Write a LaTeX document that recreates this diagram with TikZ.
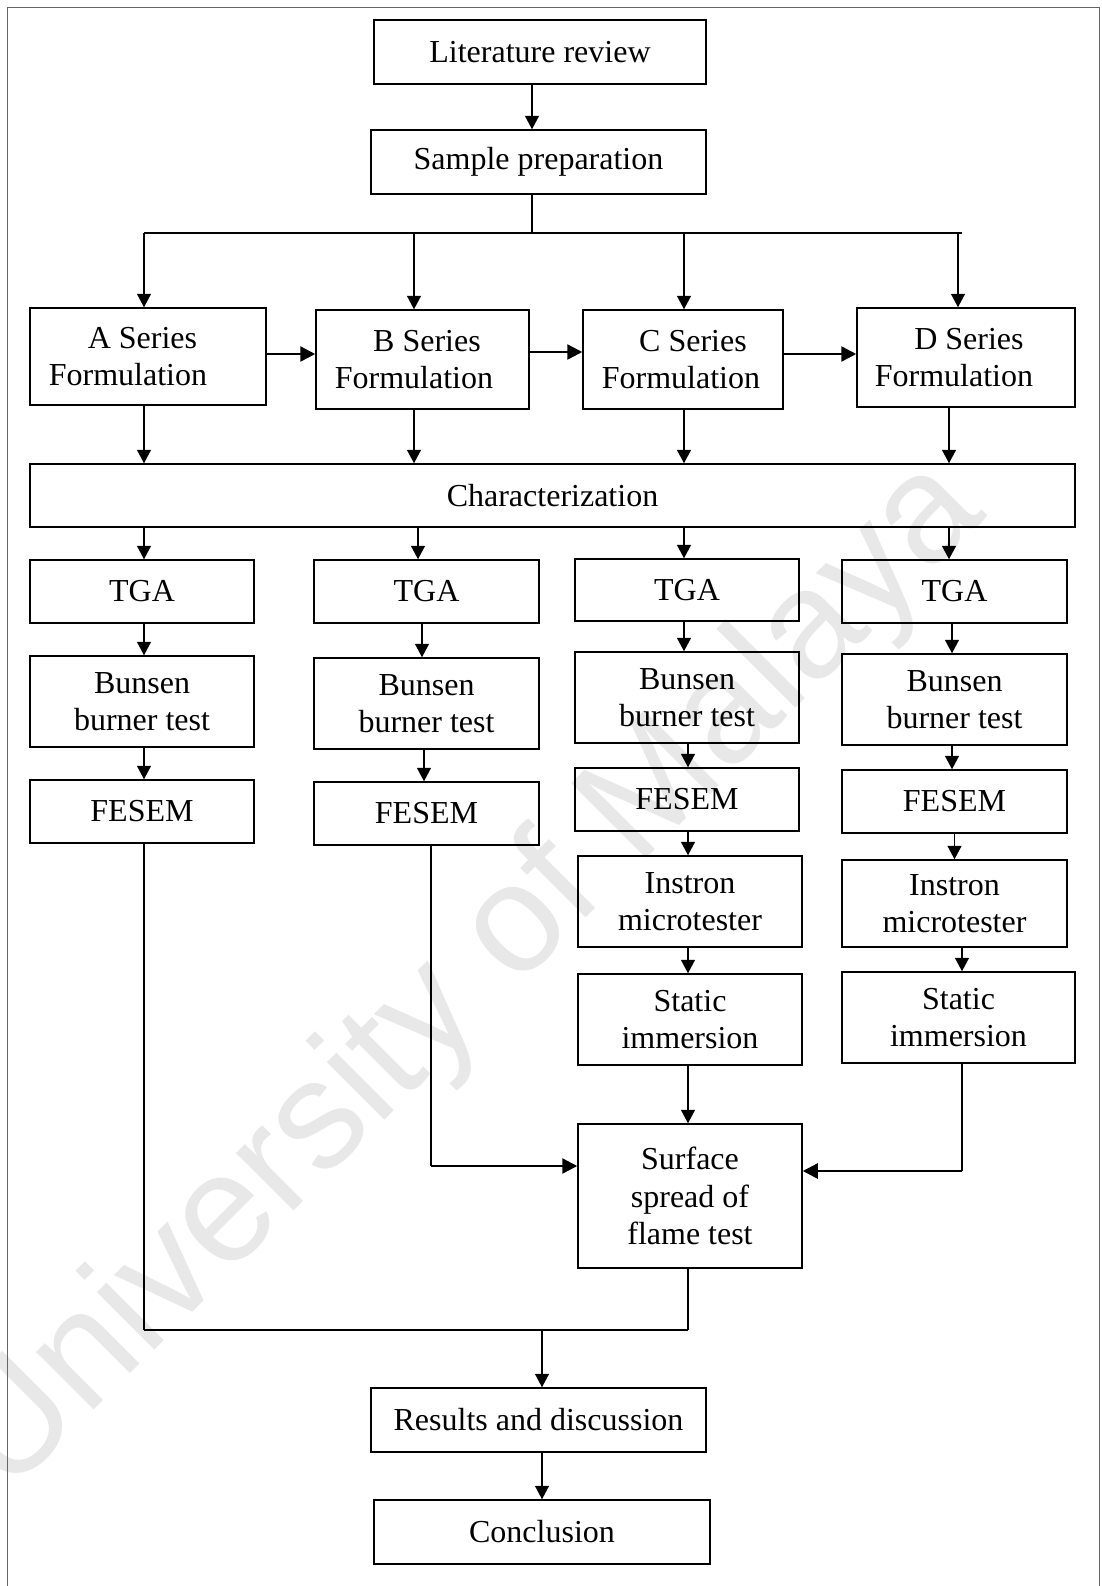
\documentclass[tikz,border=0pt]{standalone}
\usepackage{fontspec}
\setmainfont{Liberation Serif}
\newfontfamily\wmfont{Liberation Sans}
\usetikzlibrary{arrows.meta,calc}
\begin{document}
\begin{tikzpicture}[x=0.5pt,y=-0.5pt,
  box/.style={draw, line width=0.75pt, inner sep=0pt, align=center,
    font=\fontsize{16pt}{18.75pt}\selectfont},
  ln/.style={line width=0.75pt},
  arr/.style={line width=0.75pt, -{Triangle[length=6.75pt,width=7pt]}},
  harr/.style={line width=1.25pt, -{Triangle[length=7.5pt,width=7.5pt]}},
  busln/.style={line width=1pt},
  frameln/.style={line width=0.75pt, draw=black!60},
  wmark/.style={rotate=45, text=black!9, inner sep=0pt,
    font=\wmfont\fontsize{77pt}{77pt}\selectfont}]
\useasboundingbox (0,0) rectangle (1102,1586);
% watermark
\node[wmark] (wm) at (470,978) {University of Malaya};
% frame
\draw[frameln] (7.5,1600) -- (7.5,7.5) -- (1099.5,7.5) -- (1099.5,1600);

% nodes
\node[box, minimum width=166pt, minimum height=32pt] (lit) at (540,52) {Literature review};
\node[box, minimum width=167.5pt, minimum height=32pt] (prep) at (538.5,162) {Sample preparation};

\node[box, minimum width=118pt, minimum height=48.5pt] (A) at (148,356.5)
  {A Series\kern5.5pt\\Formulation\kern20pt};
\node[box, minimum width=106.5pt, minimum height=49.5pt] (B) at (422.5,359.5)
  {\hspace*{4.5pt}B Series\\Formulation\kern8.5pt};
\node[box, minimum width=100pt, minimum height=49.5pt] (C) at (683,359.5)
  {\hspace*{10pt}C Series\\Formulation\kern2pt};
\node[box, minimum width=109pt, minimum height=49.5pt] (D) at (966,357.5)
  {\hspace*{3pt}D Series\\Formulation\kern12pt};

\node[box, minimum width=522.5pt, minimum height=31.5pt] (char) at (552.5,495.5) {Characterization};

\node[box, minimum width=112pt, minimum height=31.5pt] (T1) at (142,591.5) {TGA};
\node[box, minimum width=112.5pt, minimum height=31.5pt] (T2) at (426.5,591.5) {TGA};
\node[box, minimum width=112pt, minimum height=31pt] (T3) at (687,590) {TGA};
\node[box, minimum width=112.5pt, minimum height=31.5pt] (T4) at (954.5,591.5) {TGA};

\node[box, minimum width=112pt, minimum height=45.5pt] (Bu1) at (142,701.5) {Bunsen\\burner test};
\node[box, minimum width=112.5pt, minimum height=45.5pt] (Bu2) at (426.5,703.5) {Bunsen\\burner test};
\node[box, minimum width=112pt, minimum height=45.5pt] (Bu3) at (687,697.5) {Bunsen\\burner test};
\node[box, minimum width=112.5pt, minimum height=45.5pt] (Bu4) at (954.5,699.5) {Bunsen\\burner test};

\node[box, minimum width=112pt, minimum height=31.5pt] (F1) at (142,811.5) {FESEM};
\node[box, minimum width=112.5pt, minimum height=31.5pt] (F2) at (426.5,813.5) {FESEM};
\node[box, minimum width=112pt, minimum height=31.5pt] (F3) at (687,799.5) {FESEM};
\node[box, minimum width=112.5pt, minimum height=31.5pt] (F4) at (954.5,801.5) {FESEM};

\node[box, minimum width=112pt, minimum height=45.5pt] (I3) at (690,901.5) {Instron\\microtester};
\node[box, minimum width=112.5pt, minimum height=43.5pt] (I4) at (954.5,903.5) {Instron\\microtester};

\node[box, minimum width=112pt, minimum height=45.5pt] (S3) at (690,1019.5) {Static\\immersion};
\node[box, minimum width=116.5pt, minimum height=45.5pt] (S4) at (958.5,1017.5) {Static\\immersion};

\node[box, minimum width=112pt, minimum height=72pt] (surf) at (690,1196) {Surface\\spread of\\flame test};

\node[box, minimum width=167.5pt, minimum height=32pt] (res) at (538.5,1420) {Results and discussion};
\node[box, minimum width=168pt, minimum height=32pt] (conc) at (542,1532) {Conclusion};

% top connectors
\draw[arr] ([xshift=-4pt]lit.south) -- ([xshift=-4pt]lit.south |- prep.north);
\coordinate (bus) at (532,233);
\coordinate (busL) at (144,233);
\coordinate (busR) at (962,233);
\draw[ln] (prep.south -| bus) -- (bus);
\draw[busln] (busL) -- (busR);
\draw[arr] (busL) -- (busL |- A.north);
\draw[arr] ([xshift=-4.25pt]B.north |- busL) -- ([xshift=-4.25pt]B.north);
\draw[arr] ([xshift=0.5pt]C.north |- busL) -- ([xshift=0.5pt]C.north);
\draw[arr] ([xshift=-4pt]D.north |- busL) -- ([xshift=-4pt]D.north);

% series chain
\draw[harr] ([yshift=1.25pt]A.east) -- ([yshift=1.25pt]A.east -| B.west);
\draw[harr] ([yshift=3.75pt]B.east) -- ([yshift=3.75pt]B.east -| C.west);
\draw[harr] ([yshift=2.75pt]C.east) -- ([yshift=2.75pt]C.east -| D.west);

% formulations to characterization
\draw[arr] ([xshift=-2pt]A.south) -- ([xshift=-2pt]A.south |- char.north);
\draw[arr] ([xshift=-4.25pt]B.south) -- ([xshift=-4.25pt]B.south |- char.north);
\draw[arr] ([xshift=0.5pt]C.south) -- ([xshift=0.5pt]C.south |- char.north);
\draw[arr] ([xshift=-8.5pt]D.south) -- ([xshift=-8.5pt]D.south |- char.north);

% characterization to TGA
\draw[arr] ([xshift=1pt]T1.north |- char.south) -- ([xshift=1pt]T1.north);
\draw[arr] ([xshift=-4.25pt]T2.north |- char.south) -- ([xshift=-4.25pt]T2.north);
\draw[arr] ([xshift=-1.5pt]T3.north |- char.south) -- ([xshift=-1.5pt]T3.north);
\draw[arr] ([xshift=-2.75pt]T4.north |- char.south) -- ([xshift=-2.75pt]T4.north);

% TGA to Bunsen
\draw[arr] ([xshift=1pt]T1.south) -- ([xshift=1pt]T1.south |- Bu1.north);
\draw[arr] ([xshift=-2.25pt]T2.south) -- ([xshift=-2.25pt]T2.south |- Bu2.north);
\draw[arr] ([xshift=-1.5pt]T3.south) -- ([xshift=-1.5pt]T3.south |- Bu3.north);
\draw[arr] ([xshift=-1.25pt]T4.south) -- ([xshift=-1.25pt]T4.south |- Bu4.north);

% Bunsen to FESEM
\draw[arr] ([xshift=1pt]Bu1.south) -- ([xshift=1pt]Bu1.south |- F1.north);
\draw[arr] ([xshift=-1.25pt]Bu2.south) -- ([xshift=-1.25pt]Bu2.south |- F2.north);
\draw[arr] ([xshift=0.5pt]Bu3.south) -- ([xshift=0.5pt]Bu3.south |- F3.north);
\draw[arr] ([xshift=-1.25pt]Bu4.south) -- ([xshift=-1.25pt]Bu4.south |- F4.north);

% C and D chains
\draw[arr] ([xshift=0.5pt]F3.south) -- ([xshift=0.5pt]F3.south |- I3.north);
\draw[arr] (F4.south) -- (F4.south |- I4.north);
\draw[arr] ([xshift=-1pt]I3.south) -- ([xshift=-1pt]I3.south |- S3.north);
\draw[arr] ([xshift=3.75pt]I4.south) -- ([xshift=3.75pt]I4.south |- S4.north);
\draw[arr] ([xshift=-1pt]S3.south) -- ([xshift=-1pt]S3.south |- surf.north);

% into surface spread of flame
\draw[ln] ([xshift=1.75pt]S4.south) -- ([xshift=1.75pt,yshift=12.5pt]S4.south |- surf.east);
\draw[harr] ([xshift=1.75pt,yshift=12.5pt]S4.south |- surf.east) -- ([yshift=12.5pt]surf.east);
\draw[ln] ([xshift=2.25pt]F2.south) -- ([xshift=2.25pt,yshift=15pt]F2.south |- surf.west);
\draw[harr] ([xshift=2.25pt,yshift=15pt]F2.south |- surf.west) -- ([yshift=15pt]surf.west);

% merge to results
\coordinate (mrg) at (542,1330);
\draw[ln] ([xshift=1pt]F1.south) -- ([xshift=1pt]F1.south |- mrg);
\draw[ln] ([xshift=-1pt]surf.south) -- ([xshift=-1pt]surf.south |- mrg);
\draw[busln] ([xshift=1pt]F1.south |- mrg) -- ([xshift=-1pt]surf.south |- mrg);
\draw[arr] (mrg) -- (mrg |- res.north);
\draw[arr] (conc.north |- res.south) -- (conc.north);
\end{tikzpicture}
\end{document}
